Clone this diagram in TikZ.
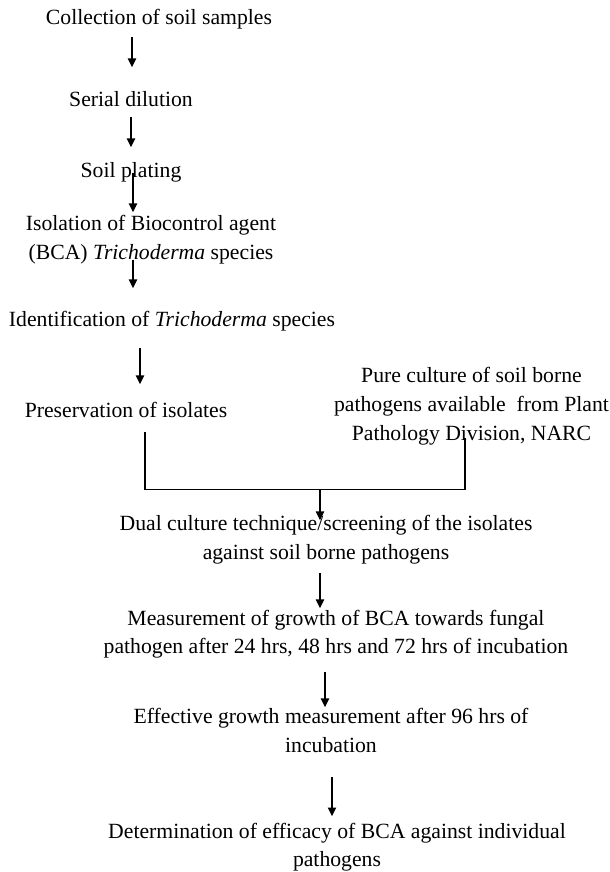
\documentclass[tikz,border=0pt]{standalone}
\usepackage{fontspec}
\setmainfont{Liberation Serif}
\usetikzlibrary{arrows.meta}
\usetikzlibrary{calc}

\begin{document}
\begin{tikzpicture}[x=0.553pt,y=-0.553pt,
  stage/.style={inner sep=0pt,align=center,yshift=-1.2pt,font=\fontsize{12}{16}\selectfont},
  flow/.style={-{Triangle[width=4.6pt,length=4.8pt]},line width=0.6pt}]
\useasboundingbox (0,0) rectangle (609,872);
\node at (159,  17) (collect)  [stage] {Collection of soil samples};
\node at (131,  97) (serial)   [stage] {Serial dilution};
\node at (131, 170) (soil)     [stage] {Soil plating};
\node at (151,237.5) (isolate) [stage] {Isolation of Biocontrol agent\\(BCA) \textit{Trichoderma} species};
\node at (172, 319) (ident)    [stage] {Identification of \textit{Trichoderma} species};
\node at (126, 408) (preserve) [stage] {Preservation of isolates};
\node at (471.5,404) (pure)    [stage] {Pure culture of soil borne\\pathogens available\ \ from Plant\\Pathology Division, NARC};
\node at (326,537.5) (dual)    [stage] {Dual culture technique/screening of the isolates\\against soil borne pathogens};
\node at (336, 632) (measure)  [stage] {Measurement of growth of BCA towards fungal\\pathogen after 24 hrs, 48 hrs and 72 hrs of incubation};
\node at (331, 728) (effect)   [stage] {Effective growth measurement after 96 hrs of\\incubation};
\node at (337, 845) (determ)   [stage] {Determination of efficacy of BCA against individual\\pathogens};
\coordinate (join) at (320,489);
\draw [flow] ($(collect)+(-27,18)$) -- ($(serial)+(1,-32)$);
\draw [flow] ($(serial)+(0,18)$) -- ($(soil)+(0,-25)$);
\draw [flow] ($(soil)+(2,1)$) -- ($(isolate)+(-18,-27.5)$);
\draw [flow] ($(isolate)+(-18,20.5)$) -- ($(ident)+(-39,-33)$);
\draw [flow] ($(ident)+(-32,27)$) -- ($(preserve)+(14,-26)$);
\draw [line width=0.6pt] ($(preserve)+(19,22)$) |- ($(pure)+(-6.5,83)$) -- ($(pure)+(-6.5,32)$);
\draw [flow] (join) -- ($(dual)+(-6,-19.5)$);
\draw [flow] ($(dual)+(-6,33.5)$) -- ($(measure)+(-16,-26)$);
\draw [flow] ($(measure)+(-11,38)$) -- ($(effect)+(-6,-23)$);
\draw [flow] ($(effect)+(1,47)$) -- ($(determ)+(-5,-31)$);
\end{tikzpicture}
\end{document}
